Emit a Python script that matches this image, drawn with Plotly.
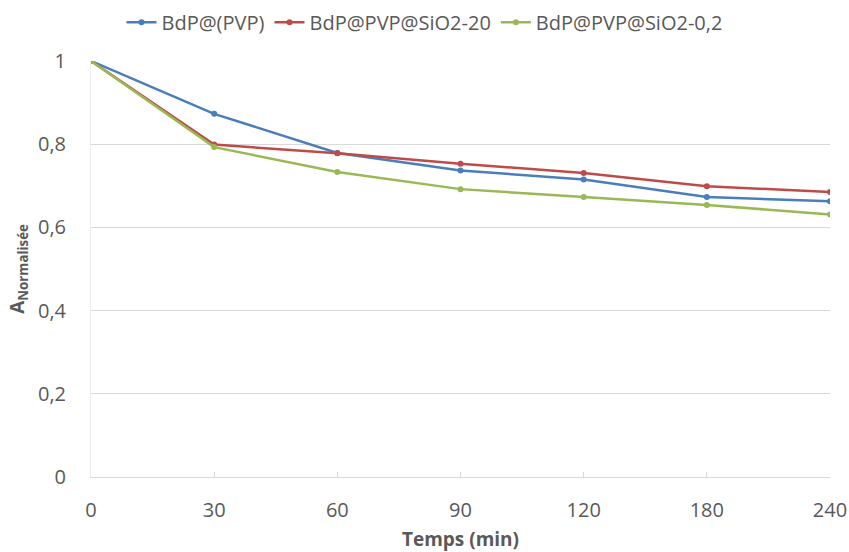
import plotly.graph_objects as go

categories = ["0", "30", "60", "90", "120", "180", "240"]
bdp_pvp = [1.0, 0.873, 0.779, 0.737, 0.715, 0.673, 0.663]
bdp_sio2_20 = [1.0, 0.799, 0.778, 0.753, 0.731, 0.699, 0.685]
bdp_sio2_02 = [1.0, 0.793, 0.733, 0.692, 0.673, 0.654, 0.631]
series_names = ["BdP@(PVP)", "BdP@PVP@SiO2-20", "BdP@PVP@SiO2-0,2"]
colors = ["#4A7EBB", "#BE4B48", "#98B954"]
y_ticks = [0, 0.2, 0.4, 0.6, 0.8, 1]
y_tick_labels = ["0", "0,2", "0,4", "0,6", "0,8", "1"]

fig = go.Figure()
for name, vals, col in zip(series_names, [bdp_pvp, bdp_sio2_20, bdp_sio2_02], colors):
    fig.add_trace(go.Scatter(
        x=categories, y=vals, name=name, mode="lines+markers",
        line=dict(color=col, width=2.5),
        marker=dict(color=col, size=6),
    ))

font_family = "'Open Sans', sans-serif"
fig.update_layout(
    width=849, height=552,
    margin=dict(l=91, r=19, t=61, b=75, autoexpand=False),
    paper_bgcolor="white", plot_bgcolor="white",
    font=dict(family=font_family, color="#595959", size=19),
    showlegend=True,
    legend=dict(orientation="h", xref="container", yref="container",
                x=0.5, xanchor="center", y=0.995, yanchor="top",
                font=dict(size=20, color="#595959"),
                itemwidth=30, tracegroupgap=0),
    xaxis=dict(
        type="category", categoryorder="array", categoryarray=categories,
        range=[0, 6], showgrid=False, showline=True, linecolor="#D9D9D9",
        linewidth=1, ticks="inside", ticklen=5, tickcolor="#D9D9D9",
        tickfont=dict(size=20, color="#595959"), ticklabelstandoff=15,
        automargin=False,
        title=dict(text="<b>Temps (min)</b>", font=dict(size=19, color="#595959"), standoff=10),
    ),
    yaxis=dict(
        range=[0, 1], tickvals=y_ticks, ticktext=y_tick_labels,
        showgrid=True, gridcolor="#D9D9D9", gridwidth=1,
        showline=True, linecolor="#EDEDED", zeroline=False,
        tickfont=dict(size=20, color="#595959"), ticks="", ticklabelstandoff=20,
        automargin=False,
        title=dict(text="<b>A<sub>Normalisée</sub></b>", font=dict(size=19, color="#595959"), standoff=8),
    ),
)

fig.write_html("out.html", config={"displayModeBar": False},
               post_script="document.body.style.margin='0';document.body.style.padding='0';")
